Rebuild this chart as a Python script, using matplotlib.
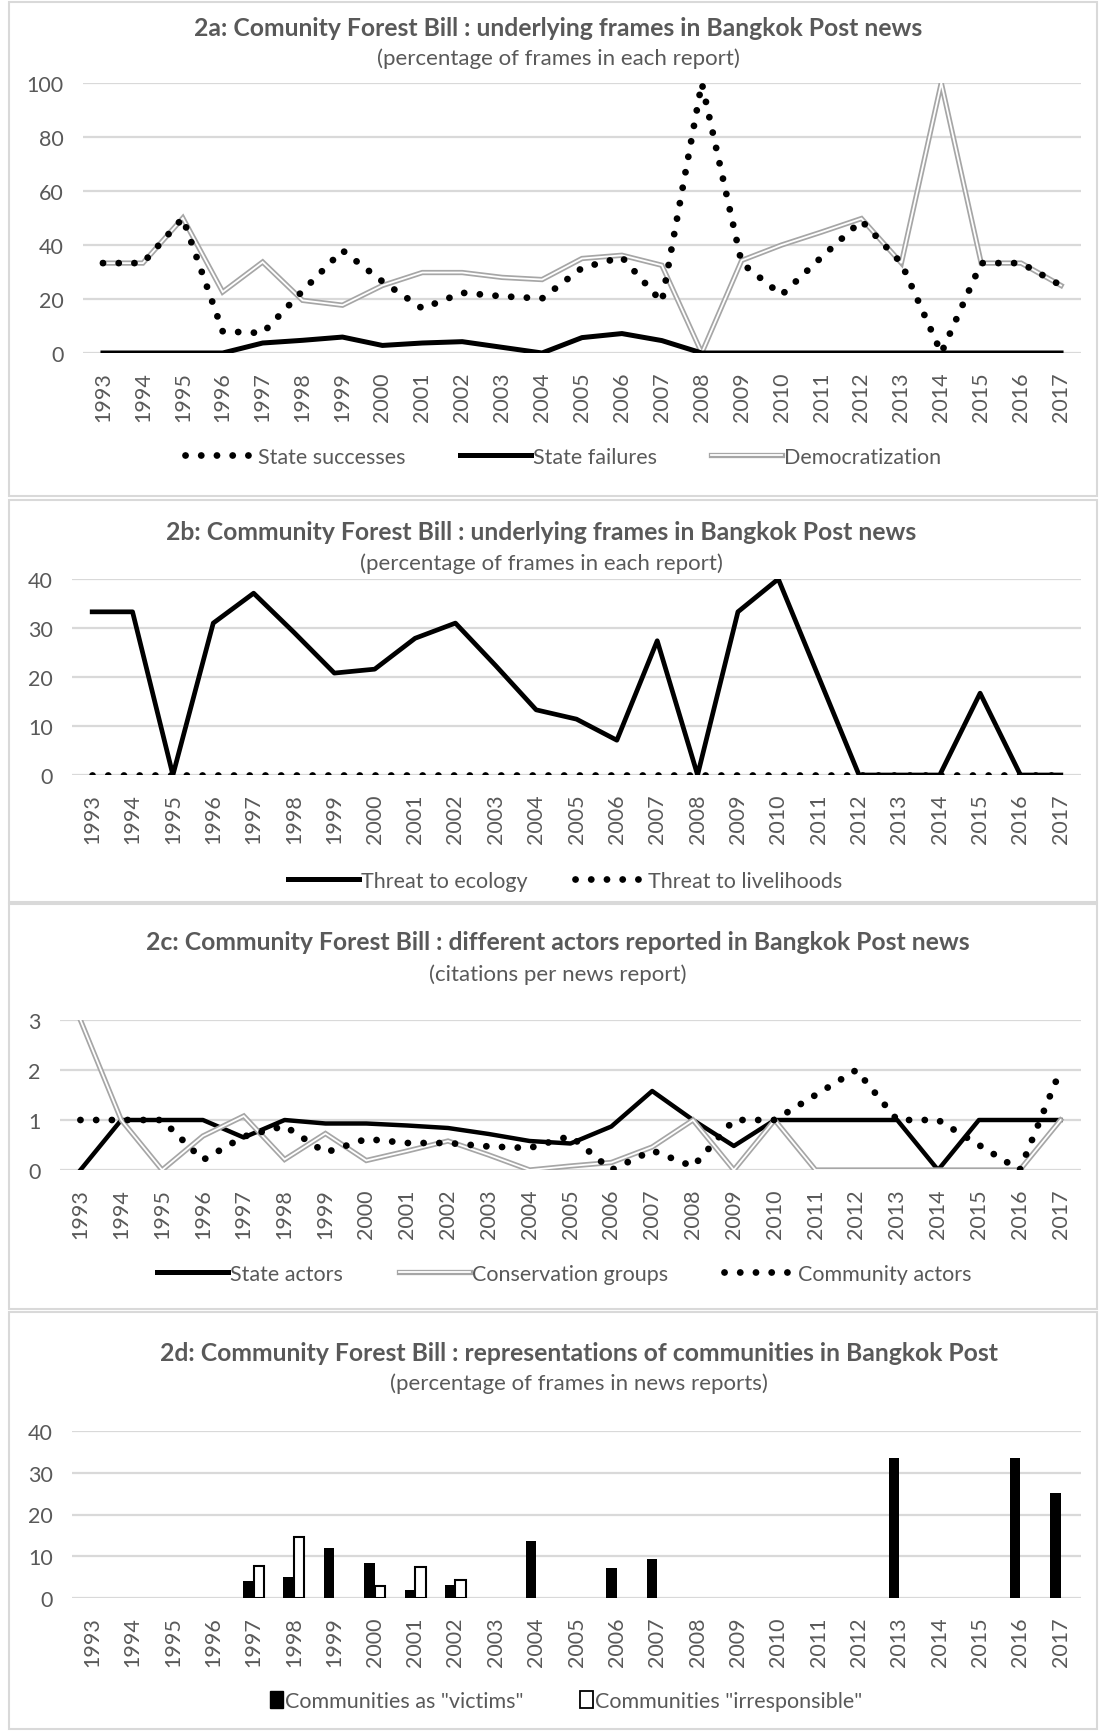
import numpy as np
import matplotlib
matplotlib.use("Agg")
import matplotlib.pyplot as plt
from matplotlib.lines import Line2D
from matplotlib.patches import Patch, Rectangle

plt.rcParams['font.family'] = ['Lato', 'DejaVu Sans']

years = [str(y) for y in range(1993, 2018)]

# 2a
state_successes = [33.3, 33.3, 50, 8, 7.4, 23, 38, 26.5, 16.5, 22.3, 21, 20.2, 31.5, 35.5, 18.9,
                   100, 33.3, 21.5, 35.5, 49, 33.3, 0, 33.3, 33.3, 25]
state_failures = [0, 0, 0, 0, 3.7, 4.7, 5.9, 2.8, 3.7, 4.2, 2.1, 0, 5.7, 7.2, 4.6,
                  0, 0, 0, 0, 0, 0, 0, 0, 0, 0]
democratization = [33.3, 33.3, 50, 22.6, 33.7, 19.5, 17.7, 25, 29.8, 29.8, 28, 27.2, 35, 36.2, 32.5,
                   0, 34.3, 40, 44.8, 49.8, 33.3, 100, 33.3, 33.3, 25]

# 2b
threat_ecology = [33.3, 33.3, 0, 31, 37.1, 29.1, 20.8, 21.6, 27.9, 31, 22.3, 13.3, 11.4, 7.1, 27.4,
                  0, 33.3, 40, 20, 0, 0, 0, 16.7, 0, 0]
threat_livelihoods = [0] * 25

# 2c
state_actors = [0, 1, 1, 1, 0.65, 1, 0.93, 0.93, 0.89, 0.84, 0.72, 0.58, 0.53, 0.87, 1.58,
                1, 0.48, 1, 1, 1, 1, 0, 1, 1, 1]
conservation = [3, 1, 0, 0.68, 1.08, 0.21, 0.73, 0.19, 0.38, 0.58, 0.3, 0, 0.08, 0.15, 0.46,
                1, 0, 1, 0, 0, 0, 0, 0, 0, 1]
community = [1, 1, 1, 0.2, 0.67, 0.88, 0.35, 0.62, 0.54, 0.54, 0.47, 0.44, 0.68, 0, 0.39,
             0.07, 1, 1, 1.5, 2, 1, 1, 0.5, 0, 2]

# 2d
victims = [0, 0, 0, 0, 4.0, 5.0, 12, 8.3, 1.9, 3.0, 0, 13.6, 0, 7.3, 9.3,
           0, 0, 0, 0, 0, 33.5, 0, 0, 33.5, 25.2]
irresponsible = [0, 0, 0, 0, 7.6, 14.5, 0, 2.9, 7.5, 4.2, 0, 0, 0, 0, 0,
                 0, 0, 0, 0, 0, 0, 0, 0, 0, 0]

W, H = 1101, 1733
TXT = '#595959'
GRID = '#D9D9D9'
DGRAY = '#A6A6A6'

fig = plt.figure(figsize=(W / 100, H / 100), dpi=100)


def box(l, r, t, b):
    return [l / W, 1 - b / H, (r - l) / W, (b - t) / H]


def style(ax, ymax, step):
    ax.set_xlim(-0.5, 24.5)
    ax.set_ylim(0, ymax)
    ax.set_yticks(np.arange(0, ymax + step / 2, step))
    ax.set_xticks(range(25))
    ax.set_xticklabels(years, rotation=90)
    ax.grid(axis='y', color=GRID, lw=1.6)
    ax.set_axisbelow(True)
    for s in ax.spines.values():
        s.set_visible(False)
    ax.tick_params(axis='both', length=0, labelsize=15.5, labelcolor=TXT)
    ax.tick_params(axis='x', pad=13)
    ax.tick_params(axis='y', pad=14)


def titles(t1, t2, x, y1, y2):
    fig.text(x / W, 1 - y1 / H, t1, ha='center', va='center', fontsize=17.8,
             fontweight='bold', color=TXT)
    fig.text(x / W, 1 - y2 / H, t2, ha='center', va='center', fontsize=16, color=TXT)


def dbl(ax, x, y):
    ax.plot(x, y, color=DGRAY, lw=3.8, solid_joinstyle='miter')
    ax.plot(x, y, color='white', lw=1.3, solid_joinstyle='miter')


dots = dict(color='black', lw=4.9, linestyle=(0, (0.01, 2.3)), dash_capstyle='round')
dbl_handle = (Line2D([], [], color=DGRAY, lw=3.8), Line2D([], [], color='white', lw=1.3))

# panel borders
for t, b in [(3, 497), (501, 903), (905, 1310), (1313, 1730)]:
    fig.patches.append(Rectangle((9 / W, 1 - b / H), 1088 / W, (b - t) / H, fill=False,
                                 edgecolor=GRID, lw=1.5, transform=fig.transFigure))

x = np.arange(25)


def legend(handles, labels, cx, cy, **kw):
    fig.legend(handles, labels, loc='center', bbox_to_anchor=(cx / W, 1 - cy / H),
               ncol=len(labels), frameon=False, fontsize=15.5, labelcolor=TXT,
               handletextpad=0.1, **kw)


# 2a
ax = fig.add_axes(box(83, 1081, 84, 354))
style(ax, 100, 20)
dbl(ax, x, democratization)
ax.plot(x, state_failures, color='black', lw=3.6)
ax.plot(x, state_successes, **dots)
titles('2a: Comunity Forest Bill : underlying frames in Bangkok Post news',
       '(percentage of frames in each report)', 558, 28, 59)
legend([Line2D([], [], **dots), Line2D([], [], color='black', lw=3.6), dbl_handle],
       ['State successes', 'State failures', 'Democratization'], 563, 458,
       handlelength=3.3, columnspacing=2.5)

# 2b
ax = fig.add_axes(box(72, 1081, 580, 776))
style(ax, 40, 10)
ax.plot(x, threat_livelihoods, **dots)
ax.plot(x, threat_ecology, color='black', lw=3.4)
titles('2b: Community Forest Bill : underlying frames in Bangkok Post news',
       '(percentage of frames in each report)', 541, 533, 564)
legend([Line2D([], [], color='black', lw=3.6), Line2D([], [], **dots)],
       ['Threat to ecology', 'Threat to livelihoods'], 565, 882,
       handlelength=3.3, columnspacing=2.2)

# 2c
ax = fig.add_axes(box(60, 1081, 1021, 1171))
style(ax, 3, 1)
ax.plot(x, state_actors, color='black', lw=3.2)
dbl(ax, x, conservation)
ax.plot(x, community, **dots)
titles('2c: Community Forest Bill : different actors reported in Bangkok Post news',
       '(citations per news report)', 558, 943, 975)
legend([Line2D([], [], color='black', lw=3.6), dbl_handle, Line2D([], [], **dots)],
       ['State actors', 'Conservation groups', 'Community actors'], 564, 1275,
       handlelength=3.3, columnspacing=2.6)

# 2d
ax = fig.add_axes(box(72, 1081, 1432, 1599))
style(ax, 40, 10)
w = 0.26
ax.bar(x - w / 2, victims, w, color='black')
irr = np.array(irresponsible, dtype=float)
m = irr > 0
ax.bar(x[m] + w / 2, irr[m], w, color='white', edgecolor='black', lw=1.5)
titles('2d: Community Forest Bill : representations of communities in Bangkok Post',
       '(percentage of frames in news reports)', 579, 1354, 1384)
legend([Patch(facecolor='black', edgecolor='black'), Patch(facecolor='white', edgecolor='black', lw=1.3)],
       ['Communities as "victims"', 'Communities "irresponsible"'], 566, 1702,
       handlelength=0.6, handleheight=0.8, columnspacing=2.6)

fig.savefig('out.png', dpi=100)
